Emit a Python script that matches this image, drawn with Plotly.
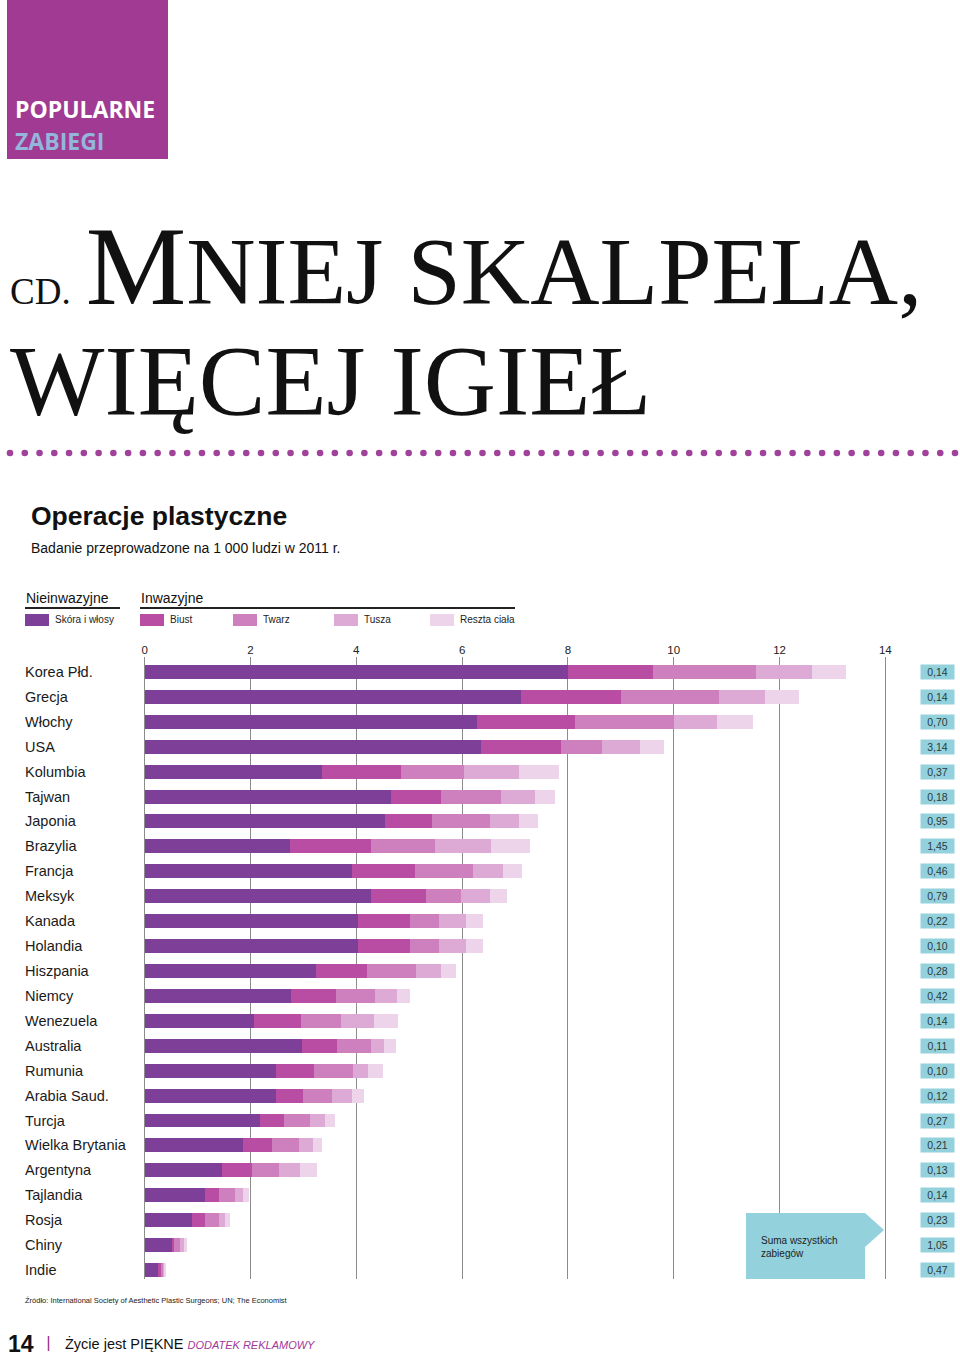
import plotly.graph_objects as go

countries = ["Korea Płd.", "Grecja", "Włochy", "USA", "Kolumbia", "Tajwan", "Japonia",
             "Brazylia", "Francja", "Meksyk", "Kanada", "Holandia", "Hiszpania", "Niemcy",
             "Wenezuela", "Australia", "Rumunia", "Arabia Saud.", "Turcja", "Wielka Brytania",
             "Argentyna", "Tajlandia", "Rosja", "Chiny", "Indie"]
skora = [8.00, 7.12, 6.29, 6.36, 3.36, 4.65, 4.55, 2.75, 3.91, 4.27, 4.03, 4.03, 3.23, 2.76,
         2.06, 2.98, 2.48, 2.48, 2.18, 1.85, 1.46, 1.15, 0.89, 0.51, 0.25]
biust = [1.60, 1.88, 1.85, 1.50, 1.49, 0.95, 0.88, 1.52, 1.20, 1.05, 0.98, 0.98, 0.98, 0.85,
         0.90, 0.65, 0.73, 0.52, 0.45, 0.56, 0.57, 0.25, 0.26, 0.05, 0.06]
twarz = [1.95, 1.85, 1.87, 0.79, 1.18, 1.14, 1.09, 1.21, 1.10, 0.65, 0.56, 0.56, 0.92, 0.75,
         0.75, 0.65, 0.72, 0.55, 0.50, 0.51, 0.51, 0.30, 0.25, 0.11, 0.04]
tusza = [1.07, 0.88, 0.81, 0.71, 1.04, 0.63, 0.56, 1.07, 0.56, 0.55, 0.51, 0.51, 0.47, 0.41,
         0.62, 0.24, 0.30, 0.36, 0.28, 0.27, 0.40, 0.16, 0.12, 0.08, 0.03]
reszta = [0.64, 0.63, 0.68, 0.46, 0.77, 0.38, 0.36, 0.74, 0.36, 0.33, 0.31, 0.31, 0.29, 0.25,
          0.46, 0.24, 0.28, 0.23, 0.18, 0.16, 0.31, 0.12, 0.09, 0.05, 0.02]
suma = [0.14, 0.14, 0.70, 3.14, 0.37, 0.18, 0.95, 1.45, 0.46, 0.79, 0.22, 0.10, 0.28, 0.42,
        0.14, 0.11, 0.10, 0.12, 0.27, 0.21, 0.13, 0.14, 0.23, 1.05, 0.47]
series_names = ["Skóra i włosy", "Biust", "Twarz", "Tusza", "Reszta ciała"]
series_values = [skora, biust, twarz, tusza, reszta]
series_colors = ["#7e3f98", "#b94ca3", "#cd80bd", "#dcaad4", "#eed4ea"]
x_ticks = [0, 2, 4, 6, 8, 10, 12, 14]

W, H = 960, 1356
L, R, T, B = 142, 888, 657, 1279
TEAL = "#93d2dc"
PURPLE = "#a03a92"
SANS = "Liberation Sans, Arial, sans-serif"
SERIF = "Liberation Serif, Times New Roman, serif"


def px(x):
    return (x - L) / (R - L)


def py(y):
    return (B - y) / (B - T)


fig = go.Figure()
for name, vals, col in zip(series_names, series_values, series_colors):
    fig.add_trace(go.Bar(y=countries, x=vals, orientation="h", name=name,
                         marker=dict(color=col, line=dict(width=0)), width=0.56,
                         showlegend=False))

shapes = []
annotations = []

# header block
shapes.append(dict(type="rect", xref="paper", yref="paper", x0=px(7), x1=px(168),
                   y0=py(159), y1=py(0), fillcolor=PURPLE, line=dict(width=0), layer="above"))
annotations.append(dict(xref="paper", yref="paper", x=px(13), y=py(109), xanchor="left",
                        yanchor="middle", showarrow=False, text="<b>POPULARNE</b>",
                        font=dict(family="Open Sans, sans-serif", size=23, color="white")))
annotations.append(dict(xref="paper", yref="paper", x=px(13), y=py(141), xanchor="left",
                        yanchor="middle", showarrow=False, text="<b>ZABIEGI</b>",
                        font=dict(family="Open Sans, sans-serif", size=23, color="#93b6da")))

# big title
annotations.append(dict(xref="paper", yref="paper", x=px(8), y=py(330), xanchor="left",
                        yanchor="bottom", showarrow=False,
                        text="<span style='font-size:37px'>CD.</span><span style='font-size:60px'> </span>"
                             "<span style='font-size:113px'>M</span>NIEJ SKALPELA,",
                        font=dict(family=SERIF, size=96, color="#111")))
annotations.append(dict(xref="paper", yref="paper", x=px(8), y=py(438), xanchor="left",
                        yanchor="bottom", showarrow=False, text="WIĘCEJ IGIEŁ",
                        font=dict(family=SERIF, size=100, color="#111")))

# dotted separator
n_dots = 65
for i in range(n_dots):
    cx = 10 + i * (955 - 10) / (n_dots - 1)
    shapes.append(dict(type="circle", xref="paper", yref="paper",
                       x0=px(cx - 3.3), x1=px(cx + 3.3), y0=py(453 + 3.3), y1=py(453 - 3.3),
                       fillcolor="#a0429a", line=dict(width=0)))

# chart titles
annotations.append(dict(xref="paper", yref="paper", x=px(29), y=py(516), xanchor="left",
                        yanchor="middle", showarrow=False, text="<b>Operacje plastyczne</b>",
                        font=dict(family=SANS, size=26.5, color="#111")))
annotations.append(dict(xref="paper", yref="paper", x=px(29), y=py(548), xanchor="left",
                        yanchor="middle", showarrow=False,
                        text="Badanie przeprowadzone na 1 000 ludzi w 2011 r.",
                        font=dict(family=SANS, size=14, color="#111")))

# legend
annotations.append(dict(xref="paper", yref="paper", x=px(24), y=py(598), xanchor="left",
                        yanchor="middle", showarrow=False, text="Nieinwazyjne",
                        font=dict(family=SANS, size=14, color="#111")))
annotations.append(dict(xref="paper", yref="paper", x=px(139), y=py(598), xanchor="left",
                        yanchor="middle", showarrow=False, text="Inwazyjne",
                        font=dict(family=SANS, size=14, color="#111")))
shapes.append(dict(type="line", xref="paper", yref="paper", x0=px(25), x1=px(120),
                   y0=py(608), y1=py(608), line=dict(color="#222", width=2.2)))
shapes.append(dict(type="line", xref="paper", yref="paper", x0=px(140), x1=px(515),
                   y0=py(608), y1=py(608), line=dict(color="#222", width=2.2)))
legend_x = [25, 140, 233, 334, 430]
for lx, name, col in zip(legend_x, series_names, series_colors):
    shapes.append(dict(type="rect", xref="paper", yref="paper", x0=px(lx), x1=px(lx + 24),
                       y0=py(626), y1=py(614), fillcolor=col, line=dict(width=0)))
    annotations.append(dict(xref="paper", yref="paper", x=px(lx + 28), y=py(619),
                            xanchor="left", yanchor="middle", showarrow=False, text=name,
                            font=dict(family=SANS, size=10, color="#222")))

# country labels and value boxes
for c, s in zip(countries, suma):
    annotations.append(dict(xref="paper", yref="y", x=px(23), y=c, xanchor="left",
                            yanchor="middle", showarrow=False, text=c,
                            font=dict(family=SANS, size=14.5, color="#1a1a1a")))
    annotations.append(dict(xref="paper", yref="y", x=px(937), y=c, xanchor="center",
                            yanchor="middle", showarrow=False,
                            text=f"{s:.2f}".replace(".", ","), bgcolor=TEAL,
                            width=31, height=12, borderpad=1,
                            font=dict(family=SANS, size=10.5, color="#2a3a40")))

# callout
path = "M {} {} L {} {} L {} {} L {} {} L {} {} L {} {} Z".format(
    px(746), py(1213), px(865), py(1213), px(884), py(1230), px(865), py(1247),
    px(865), py(1279), px(746), py(1279))
shapes.append(dict(type="path", xref="paper", yref="paper", path=path,
                   fillcolor=TEAL, line=dict(width=0), layer="above"))
annotations.append(dict(xref="paper", yref="paper", x=px(759), y=py(1247), xanchor="left",
                        yanchor="middle", showarrow=False, align="left",
                        text="Suma wszystkich<br>zabiegów",
                        font=dict(family=SANS, size=10, color="#222")))

# source
annotations.append(dict(xref="paper", yref="paper", x=px(23), y=py(1300), xanchor="left",
                        yanchor="middle", showarrow=False,
                        text="Źródło: International Society of Aesthetic Plastic Surgeons; UN; The Economist",
                        font=dict(family=SANS, size=7.5, color="#222")))

# footer
annotations.append(dict(xref="paper", yref="paper", x=px(6), y=py(1344), xanchor="left",
                        yanchor="middle", showarrow=False, text="<b>14</b>",
                        font=dict(family=SANS, size=23, color="#111")))
shapes.append(dict(type="line", xref="paper", yref="paper", x0=px(48.5), x1=px(48.5),
                   y0=py(1351), y1=py(1336), line=dict(color=PURPLE, width=1.5)))
annotations.append(dict(xref="paper", yref="paper", x=px(63), y=py(1343), xanchor="left",
                        yanchor="middle", showarrow=False,
                        text="Życie jest PIĘKNE <i><span style='color:#a0399a;font-size:11px'>DODATEK REKLAMOWY</span></i>",
                        font=dict(family=SANS, size=14.5, color="#111")))

fig.update_layout(
    width=W, height=H, barmode="stack", bargap=0,
    margin=dict(l=L, r=W - R, t=T, b=H - B, pad=0, autoexpand=False),
    paper_bgcolor="white", plot_bgcolor="white",
    xaxis=dict(range=[-0.05, 14.05], side="top", tickvals=x_ticks, showgrid=True,
               gridcolor="#8c8c8c", gridwidth=1.3, zeroline=False, showline=False, ticks="",
               tickfont=dict(family=SANS, size=11.5, color="#222"), fixedrange=True),
    yaxis=dict(type="category", categoryarray=countries, range=[24.36, -0.60],
               showticklabels=False, showgrid=False, zeroline=False, showline=False, ticks=""),
    shapes=shapes, annotations=annotations,
)

fig.write_html("out.html", config={"displayModeBar": False},
               post_script="document.body.style.margin='0';document.body.style.overflow='hidden';")
